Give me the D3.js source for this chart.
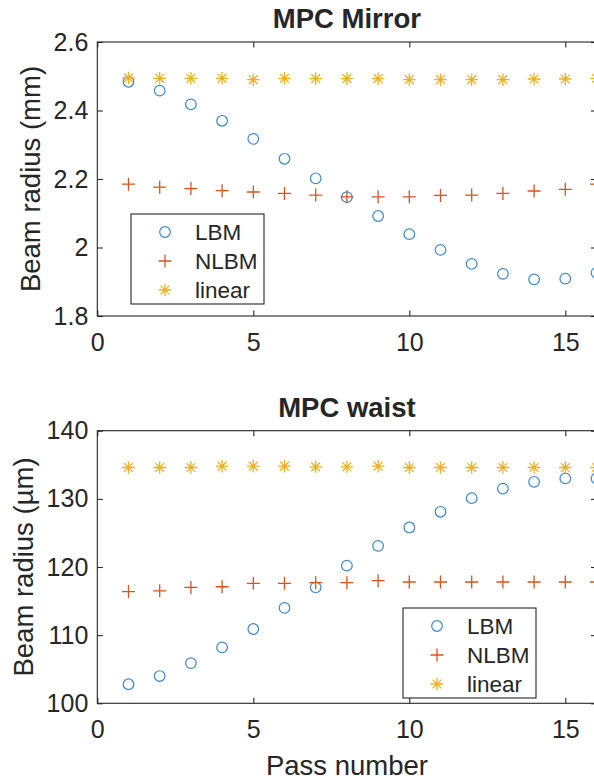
<!DOCTYPE html>
<html>
<head>
<meta charset="utf-8">
<script src="https://cdn.jsdelivr.net/npm/d3@7"></script>
<style>
  html, body { margin: 0; padding: 0; background: #fff; }
  svg { display: block; }
  text { font-family: "Liberation Sans", Arial, Helvetica, sans-serif; fill: #262626; }
</style>
</head>
<body>
<svg id="chart" width="594" height="783"></svg>
<script>
// ---------- data ----------
const passes = [1,2,3,4,5,6,7,8,9,10,11,12,13,14,15,16];

const mirrorLBM    = [2.484,2.458,2.418,2.370,2.317,2.259,2.202,2.147,2.092,2.039,1.993,1.952,1.923,1.907,1.909,1.926];
const mirrorNLBM   = [2.185,2.176,2.172,2.166,2.162,2.158,2.153,2.148,2.148,2.148,2.152,2.153,2.158,2.165,2.170,2.185];
const mirrorLinear = [2.495,2.494,2.494,2.494,2.490,2.494,2.493,2.493,2.493,2.490,2.490,2.490,2.490,2.492,2.492,2.494];

const waistLBM    = [102.8,104.0,105.9,108.2,110.9,114.0,117.0,120.2,123.1,125.8,128.1,130.1,131.5,132.5,133.0,133.0];
const waistNLBM   = [116.4,116.5,117.0,117.1,117.6,117.6,117.7,117.7,118.0,117.8,117.8,117.8,117.8,117.8,117.8,117.8];
const waistLinear = [134.6,134.6,134.6,134.8,134.8,134.8,134.7,134.7,134.8,134.6,134.6,134.6,134.6,134.6,134.6,134.6];

const xTicks = [0,5,10,15];
const xDomain = [0,16];
const mirrorYTicks = [1.8,2.0,2.2,2.4,2.6];
const mirrorYDomain = [1.8,2.6];
const waistYTicks = [100,110,120,130,140];
const waistYDomain = [100,140];

const seriesNames = ["LBM","NLBM","linear"];
const seriesColors = ["#3A87D2","#D95319","#EDB120"];
const seriesMarkers = ["circle","plus","asterisk"];

const titles = ["MPC Mirror","MPC waist"];
const yLabels = ["Beam radius (mm)","Beam radius (\u00B5m)"];
const xLabel = "Pass number";

// ---------- layout ----------
const svg = d3.select("#chart");
const axisColor = "#262626";
const L = 97.3, R = 596.5;

const panels = [
  {top: 42, bottom: 316, yDomain: mirrorYDomain, yTicks: mirrorYTicks, fmt: d3.format("~g"),
   series: [mirrorLBM, mirrorNLBM, mirrorLinear], title: titles[0], ylabel: yLabels[0],
   titleY: 28, ylabelX: 39.5, legend: {x: 131, y: 214}},
  {top: 430.7, bottom: 703.3, yDomain: waistYDomain, yTicks: waistYTicks, fmt: d3.format("d"),
   series: [waistLBM, waistNLBM, waistLinear], title: titles[1], ylabel: yLabels[1],
   titleY: 417, ylabelX: 33, legend: {x: 403, y: 608}, xlabel: true}
];

function drawMarker(g, type, color) {
  if (type === "circle") {
    g.append("circle").attr("r", 5.3).attr("fill", "none")
      .attr("stroke", color).attr("stroke-width", 1.2);
  } else if (type === "plus") {
    const s = 6.5;
    g.append("path").attr("d", `M${-s},0H${s}M0,${-s}V${s}`)
      .attr("fill", "none").attr("stroke", color).attr("stroke-width", 1.3);
  } else {
    const s = 6.3, d = 4.4;
    g.append("path").attr("d", `M${-s},0H${s}M0,${-s}V${s}M${-d},${-d}L${d},${d}M${-d},${d}L${d},${-d}`)
      .attr("fill", "none").attr("stroke", color).attr("stroke-width", 1.3);
  }
}

panels.forEach(p => {
  const x = d3.scaleLinear().domain(xDomain).range([L, R]);
  const y = d3.scaleLinear().domain(p.yDomain).range([p.bottom, p.top]);
  const g = svg.append("g");

  g.append("rect").attr("x", L).attr("y", p.top).attr("width", R - L).attr("height", p.bottom - p.top)
    .attr("fill", "#fff");

  const styleAxis = sel => {
    sel.select(".domain").remove();
    sel.selectAll(".tick line").attr("stroke", axisColor).attr("stroke-width", 1.1);
    sel.selectAll(".tick text").attr("fill", axisColor)
      .style("font-family", '"Liberation Sans", Arial, sans-serif').style("font-size", "25px");
  };
  g.append("g").attr("transform", `translate(0,${p.bottom})`)
    .call(d3.axisBottom(x).tickValues(xTicks).tickFormat(d3.format("d")).tickSize(-5.5).tickPadding(17))
    .call(styleAxis);
  g.append("g").attr("transform", `translate(0,${p.top})`)
    .call(d3.axisTop(x).tickValues(xTicks).tickFormat("").tickSize(-5.5))
    .call(styleAxis);
  g.append("g").attr("transform", `translate(${L},0)`)
    .call(d3.axisLeft(y).tickValues(p.yTicks).tickFormat(p.fmt).tickSize(-5.5).tickPadding(9))
    .call(styleAxis);
  g.append("g").attr("transform", `translate(${R},0)`)
    .call(d3.axisRight(y).tickValues(p.yTicks).tickFormat("").tickSize(-5.5))
    .call(styleAxis);

  g.append("rect").attr("x", L).attr("y", p.top).attr("width", R - L).attr("height", p.bottom - p.top)
    .attr("fill", "none").attr("stroke", axisColor).attr("stroke-width", 1.1);

  p.series.forEach((vals, si) => {
    g.append("g").selectAll("g").data(passes.map((d, i) => [d, vals[i]])).join("g")
      .attr("transform", d => `translate(${x(d[0])},${y(d[1])})`)
      .each(function() { drawMarker(d3.select(this), seriesMarkers[si], seriesColors[si]); });
  });

  g.append("text").attr("x", (L + R) / 2).attr("y", p.titleY).attr("text-anchor", "middle")
    .style("font-size", "27.5px").style("font-weight", "bold").attr("fill", "#000").text(p.title);

  g.append("text").attr("transform", `translate(${p.ylabelX},${(p.top + p.bottom) / 2}) rotate(-90)`)
    .attr("text-anchor", "middle").style("font-size", "27.5px").text(p.ylabel);

  if (p.xlabel) {
    g.append("text").attr("x", (L + R) / 2).attr("y", 775).attr("text-anchor", "middle")
      .style("font-size", "27.5px").text(xLabel);
  }

  const lg = g.append("g").attr("transform", `translate(${p.legend.x},${p.legend.y})`);
  lg.append("rect").attr("width", 133).attr("height", 90).attr("fill", "#fff")
    .attr("stroke", axisColor).attr("stroke-width", 1.1);
  seriesNames.forEach((name, i) => {
    const row = lg.append("g").attr("transform", `translate(0,${26 + i * 29})`);
    drawMarker(row.append("g").attr("transform", "translate(34,-8)"), seriesMarkers[i], seriesColors[i]);
    row.append("text").attr("x", 64).attr("y", 0).style("font-size", "22.5px").attr("fill", "#000").text(name);
  });
});
</script>
</body>
</html>
